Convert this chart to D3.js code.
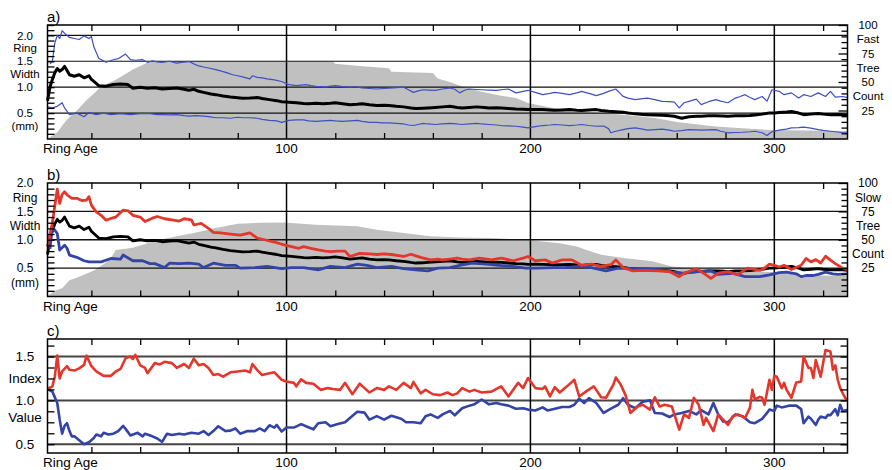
<!DOCTYPE html>
<html>
<head>
<meta charset="utf-8">
<script src="https://cdn.jsdelivr.net/npm/d3@7"></script>
<style>
  body { margin: 0; background: #fff; }
  svg { display: block; }
  text { font-family: "Liberation Sans", Arial, sans-serif; fill: #000; }
</style>
</head>
<body>
<svg id="chart" width="892" height="470"></svg>
<script>
// ---- Ring age axis -------------------------------------------------------
const ageRange = [2, 330];
const ageTickLabels = ["100", "200", "300"];

// ---- Mean ring width of all trees (mm), by ring age ----------------------
const meanRW = [[2,0.74],[3,1.0],[4,1.15],[5,1.28],[6,1.36],[7,1.31],[8,1.34],[9,1.40],[10,1.32],[11,1.24],[13,1.21],[15,1.24],[17,1.18],[19,1.22],[20,1.15],[21,1.11],[23,1.03],[26,1.02],[29,1.05],[32,1.06],[35,1.05],[37,0.98],[40,1.0],[43,0.98],[46,0.99],[49,0.965],[52,0.975],[55,0.985],[58,0.96],[60,0.94],[62,0.96],[64,0.92],[66,0.90],[69,0.87],[71,0.856],[74,0.83],[77,0.81],[80,0.795],[82,0.785],[85,0.79],[88,0.80],[90,0.78],[93,0.76],[96,0.74],[98,0.72],[101,0.71],[104,0.70],[107,0.685],[109,0.68],[112,0.69],[115,0.68],[118,0.69],[120,0.70],[123,0.68],[126,0.66],[129,0.67],[131,0.68],[134,0.66],[137,0.645],[140,0.65],[142,0.645],[145,0.63],[148,0.62],[151,0.60],[153,0.59],[156,0.595],[158,0.60],[161,0.61],[164,0.62],[167,0.63],[170,0.61],[172,0.60],[175,0.61],[178,0.62],[181,0.61],[183,0.60],[186,0.605],[188,0.60],[191,0.59],[194,0.58],[197,0.575],[199,0.567],[202,0.57],[205,0.567],[208,0.56],[210,0.555],[213,0.56],[216,0.567],[219,0.555],[221,0.55],[224,0.56],[227,0.567],[229,0.55],[232,0.535],[235,0.525],[238,0.515],[240,0.50],[243,0.485],[246,0.475],[248,0.47],[251,0.465],[254,0.46],[257,0.45],[259,0.44],[262,0.40],[265,0.43],[268,0.44],[270,0.44],[273,0.45],[276,0.45],[279,0.445],[281,0.44],[284,0.45],[287,0.45],[290,0.455],[292,0.465],[295,0.48],[298,0.50],[300,0.50],[302,0.51],[305,0.52],[307,0.53],[310,0.50],[312,0.47],[315,0.48],[318,0.49],[320,0.48],[323,0.47],[326,0.475],[328,0.47],[330,0.46]];

// ---- Fast-growing trees: upper and lower envelope (mm) -------------------
const fastHigh = [[3,1.45],[4,1.50],[5,1.85],[6,2.0],[7,1.94],[8,2.09],[9,2.04],[10,2.0],[11,1.96],[13,1.94],[15,1.92],[17,1.99],[19,1.94],[20,1.98],[21,1.78],[23,1.56],[26,1.48],[29,1.53],[31,1.55],[34,1.64],[36,1.53],[38,1.52],[41,1.53],[43,1.48],[45,1.51],[47,1.49],[49,1.48],[52,1.50],[55,1.465],[57,1.48],[60,1.495],[62,1.45],[64,1.41],[66,1.39],[68,1.37],[71,1.34],[74,1.30],[76,1.27],[78,1.24],[80,1.22],[82,1.20],[85,1.16],[86,1.22],[88,1.19],[90,1.18],[92,1.16],[95,1.14],[98,1.11],[101,1.05],[104,1.03],[106,1.04],[108,1.05],[110,1.03],[112,1.015],[114,1.01],[116,1.0],[118,1.02],[120,1.03],[123,1.01],[126,1.0],[128,1.01],[131,0.985],[134,0.975],[137,0.965],[140,0.975],[142,0.98],[145,0.99],[148,1.0],[150,0.95],[152,0.90],[154,0.93],[156,0.95],[158,0.945],[161,0.94],[164,0.965],[167,0.985],[169,0.96],[171,0.89],[173,0.94],[175,0.965],[178,0.955],[180,0.95],[183,0.945],[186,0.94],[189,0.955],[191,0.965],[194,0.89],[197,0.92],[199,0.94],[202,0.90],[205,0.856],[208,0.88],[210,0.90],[213,0.88],[216,0.856],[219,0.89],[221,0.92],[224,0.88],[227,0.837],[230,0.88],[232,0.92],[235,0.965],[238,0.823],[240,0.79],[243,0.76],[246,0.78],[248,0.79],[251,0.76],[254,0.727],[257,0.72],[259,0.71],[261,0.60],[263,0.70],[265,0.727],[268,0.77],[270,0.663],[273,0.72],[276,0.76],[278,0.73],[281,0.70],[284,0.79],[286,0.82],[288,0.856],[290,0.80],[292,0.76],[295,0.82],[297,0.73],[299,0.95],[302,0.92],[304,0.856],[307,0.89],[310,0.79],[312,0.856],[315,0.82],[318,0.89],[321,0.82],[323,0.92],[325,0.81],[328,0.82],[330,0.80]];

const fastLow = [[2,0.62],[4,0.60],[6,0.63],[8,0.70],[9,0.60],[11,0.47],[14,0.50],[17,0.43],[19,0.51],[22,0.47],[25,0.50],[28,0.47],[32,0.49],[36,0.47],[40,0.49],[44,0.49],[47,0.47],[49,0.47],[52,0.465],[55,0.47],[58,0.45],[60,0.44],[63,0.45],[66,0.44],[68,0.43],[71,0.41],[74,0.41],[77,0.40],[80,0.42],[82,0.41],[85,0.41],[88,0.40],[90,0.38],[93,0.36],[96,0.35],[98,0.32],[101,0.36],[104,0.37],[107,0.37],[109,0.35],[112,0.34],[115,0.35],[118,0.36],[120,0.35],[123,0.34],[126,0.35],[129,0.36],[131,0.34],[134,0.32],[137,0.32],[139,0.31],[142,0.31],[145,0.30],[148,0.29],[150,0.27],[152,0.26],[154,0.28],[156,0.30],[158,0.29],[161,0.28],[164,0.29],[167,0.30],[170,0.29],[172,0.28],[175,0.29],[178,0.30],[180,0.29],[183,0.28],[186,0.27],[188,0.26],[191,0.255],[194,0.246],[197,0.23],[199,0.215],[202,0.24],[205,0.26],[208,0.27],[210,0.28],[213,0.27],[216,0.26],[219,0.27],[221,0.28],[224,0.26],[227,0.246],[230,0.25],[232,0.20],[233,0.12],[235,0.15],[238,0.18],[240,0.20],[243,0.215],[246,0.19],[248,0.17],[251,0.18],[254,0.19],[257,0.17],[259,0.15],[262,0.16],[265,0.18],[268,0.175],[270,0.17],[273,0.175],[276,0.18],[278,0.15],[281,0.12],[284,0.125],[287,0.13],[290,0.14],[292,0.15],[295,0.12],[297,0.067],[299,0.14],[302,0.17],[305,0.19],[307,0.215],[310,0.22],[312,0.23],[315,0.21],[318,0.18],[320,0.165],[323,0.15],[326,0.135],[328,0.12],[330,0.12]];

// Number of fast-growing trees reaching each ring age
const fastCount = [[2,0],[4,3],[6,6],[10,17],[14,25],[18,34],[21,40],[24,46],[27,49],[30,52],[34,57],[37,61],[40,64],[43,67],[46,68],[119,68],[120,66],[130,64],[142,62],[143,59],[160,58],[162,53],[167,50],[172,46],[180,41.5],[188,38],[194,36],[199,31.5],[207,28],[218,24],[229,23],[239,21],[251,18.5],[260,15],[268,13],[276,11],[290,9],[298,8],[330,7]];

// ---- Slow-growing trees (mm) ---------------------------------------------
const slowHigh = [[2,0.875],[4,1.30],[6,1.89],[7,1.64],[8,1.80],[9,1.845],[10,1.79],[12,1.73],[14,1.73],[16,1.69],[18,1.70],[19,1.76],[20,1.61],[22,1.49],[24,1.43],[26,1.345],[28,1.375],[30,1.40],[33,1.52],[35,1.51],[37,1.43],[40,1.40],[42,1.32],[45,1.38],[47,1.41],[50,1.37],[53,1.35],[56,1.33],[58,1.37],[61,1.35],[62,1.26],[65,1.29],[68,1.20],[70,1.13],[73,1.12],[77,1.10],[81,1.08],[85,1.12],[88,1.03],[91,1.0],[95,0.96],[99,0.91],[102,0.88],[105,0.85],[107,0.88],[110,0.85],[113,0.82],[116,0.80],[118,0.79],[121,0.80],[124,0.80],[126,0.705],[130,0.76],[134,0.75],[137,0.74],[140,0.75],[143,0.74],[146,0.72],[148,0.705],[151,0.745],[155,0.69],[159,0.645],[162,0.66],[164,0.645],[167,0.66],[170,0.675],[172,0.66],[175,0.645],[179,0.675],[182,0.66],[184,0.645],[188,0.675],[193,0.63],[197,0.675],[199,0.705],[202,0.63],[206,0.645],[209,0.59],[213,0.645],[217,0.645],[221,0.55],[225,0.57],[229,0.53],[233,0.56],[235,0.645],[238,0.51],[242,0.45],[247,0.46],[252,0.45],[257,0.44],[261,0.35],[263,0.41],[268,0.49],[272,0.38],[274,0.32],[277,0.41],[281,0.44],[285,0.38],[289,0.50],[294,0.46],[296,0.50],[298,0.57],[300,0.55],[302,0.52],[304,0.55],[307,0.475],[311,0.55],[313,0.67],[315,0.61],[317,0.65],[319,0.59],[321,0.71],[323,0.64],[325,0.58],[328,0.50],[330,0.475]];

const slowLow = [[3,0.84],[4,1.23],[6,1.11],[7,0.82],[9,0.905],[10,0.85],[11,0.73],[14,0.69],[17,0.63],[19,0.61],[24,0.61],[28,0.67],[32,0.66],[33,0.73],[37,0.63],[41,0.63],[44,0.58],[46,0.58],[50,0.51],[52,0.587],[56,0.58],[60,0.587],[64,0.57],[66,0.51],[70,0.587],[75,0.55],[79,0.55],[81,0.50],[87,0.51],[92,0.53],[98,0.49],[102,0.51],[107,0.51],[113,0.47],[118,0.53],[124,0.51],[129,0.57],[133,0.55],[137,0.51],[143,0.53],[148,0.49],[153,0.47],[158,0.45],[162,0.50],[167,0.51],[171,0.55],[176,0.587],[182,0.57],[187,0.55],[193,0.53],[198,0.50],[203,0.50],[209,0.51],[214,0.51],[220,0.53],[225,0.51],[231,0.45],[236,0.50],[242,0.49],[247,0.49],[253,0.47],[258,0.43],[263,0.41],[269,0.44],[274,0.45],[277,0.39],[283,0.41],[288,0.35],[294,0.35],[298,0.38],[302,0.42],[305,0.43],[309,0.40],[311,0.35],[313,0.37],[316,0.37],[318,0.39],[321,0.43],[324,0.40],[326,0.39],[330,0.40]];

// Number of slow-growing trees reaching each ring age
const slowCount = [[2,0],[3,2],[5,5],[8,7.3],[11,14.4],[15,17.3],[21,23],[26,30],[28,34],[30,41],[37,43],[43,47],[48,50],[55,53],[62,56],[70,60],[80,64],[90,65],[99,65.3],[112,63.2],[129,62],[137,58.8],[148,56],[159,53],[171,52],[184,51.5],[198,50],[205,48.5],[212,47],[219,44],[223,41],[229,36.7],[239,33.8],[250,31],[258,26.5],[266,25],[280,23.5],[293,22],[302,21.4],[310,19],[330,18]];

// ---- Index values (group mean / overall mean) ----------------------------
const indexSlow = [[2,1.13],[4,1.16],[5,1.27],[6,1.51],[7,1.25],[8,1.33],[10,1.39],[11,1.35],[13,1.34],[15,1.365],[17,1.405],[18,1.51],[20,1.39],[22,1.33],[25,1.28],[28,1.28],[30,1.33],[32,1.36],[34,1.48],[36,1.50],[37,1.47],[38,1.52],[40,1.40],[42,1.37],[43,1.31],[46,1.425],[48,1.41],[50,1.44],[53,1.425],[55,1.37],[58,1.415],[60,1.37],[62,1.475],[64,1.40],[66,1.415],[68,1.37],[70,1.29],[72,1.30],[74,1.27],[77,1.32],[80,1.33],[83,1.34],[85,1.32],[86,1.415],[88,1.345],[90,1.29],[93,1.31],[95,1.32],[98,1.235],[100,1.215],[103,1.20],[104,1.16],[106,1.24],[108,1.20],[111,1.19],[114,1.12],[117,1.14],[119,1.13],[122,1.12],[124,1.20],[127,1.07],[130,1.19],[132,1.14],[134,1.09],[137,1.14],[140,1.12],[142,1.16],[145,1.12],[148,1.20],[151,1.14],[152,1.21],[155,1.08],[157,1.12],[160,1.07],[163,1.06],[166,1.09],[168,1.06],[170,1.08],[172,1.14],[175,1.10],[177,1.12],[180,1.09],[184,1.10],[188,1.16],[191,1.045],[195,1.20],[197,1.14],[199,1.255],[202,1.14],[205,1.13],[206,1.16],[208,1.045],[210,1.15],[212,1.09],[215,1.16],[218,1.235],[220,1.045],[223,1.105],[226,1.16],[229,1.035],[231,1.03],[234,1.18],[235,1.26],[237,1.18],[239,1.06],[241,0.857],[244,0.93],[246,0.95],[249,0.895],[251,1.035],[253,0.93],[255,0.95],[258,0.93],[261,0.667],[263,0.84],[265,0.80],[267,1.03],[269,0.95],[271,0.72],[272,0.80],[275,0.65],[277,0.84],[279,0.78],[281,0.72],[283,0.82],[285,0.84],[288,0.80],[290,0.915],[291,1.12],[292,1.01],[294,1.04],[295,1.03],[296,0.95],[298,1.235],[299,1.12],[300,1.28],[301,1.27],[303,1.14],[304,1.20],[305,1.12],[307,1.03],[309,1.205],[311,1.216],[312,1.50],[314,1.37],[315,1.37],[316,1.255],[317,1.46],[319,1.27],[320,1.425],[321,1.575],[323,1.557],[324,1.35],[325,1.40],[326,1.235],[327,1.14],[329,1.03],[330,1.0]];

const indexFast = [[2,1.13],[4,1.10],[6,0.97],[7,0.78],[8,0.62],[9,0.71],[10,0.74],[11,0.65],[12,0.59],[13,0.59],[15,0.545],[17,0.50],[19,0.523],[21,0.57],[22,0.61],[24,0.59],[25,0.63],[27,0.61],[29,0.62],[31,0.65],[33,0.71],[34,0.675],[36,0.60],[39,0.63],[41,0.59],[42,0.62],[45,0.59],[47,0.565],[49,0.527],[51,0.62],[53,0.605],[56,0.62],[58,0.61],[61,0.63],[64,0.62],[66,0.65],[68,0.605],[70,0.65],[72,0.705],[75,0.65],[77,0.655],[79,0.68],[81,0.62],[84,0.65],[87,0.65],[89,0.68],[91,0.65],[93,0.716],[95,0.69],[96,0.72],[98,0.645],[100,0.69],[103,0.69],[106,0.73],[108,0.705],[111,0.67],[113,0.74],[116,0.75],[118,0.705],[121,0.73],[124,0.75],[126,0.80],[129,0.87],[132,0.86],[134,0.78],[137,0.82],[140,0.78],[143,0.825],[147,0.79],[149,0.75],[152,0.75],[155,0.74],[157,0.82],[159,0.84],[162,0.80],[164,0.84],[167,0.88],[169,0.83],[172,0.91],[175,0.94],[177,0.955],[180,1.01],[183,0.955],[186,0.97],[188,0.955],[191,0.94],[194,0.905],[197,0.91],[199,0.895],[202,0.885],[205,0.92],[207,0.885],[210,0.905],[213,0.925],[216,0.925],[218,0.95],[220,1.02],[222,0.97],[224,1.025],[227,0.97],[230,0.857],[233,0.905],[236,0.95],[238,1.025],[240,0.95],[243,0.91],[246,0.985],[249,1.0],[251,0.857],[254,0.85],[257,0.81],[259,0.84],[262,0.857],[265,0.88],[268,0.84],[270,0.89],[273,0.84],[275,0.97],[277,0.84],[279,0.76],[281,0.75],[284,0.84],[287,0.82],[290,0.75],[292,0.74],[295,0.79],[297,0.857],[298,0.895],[300,0.88],[301,0.94],[303,0.92],[306,0.94],[309,0.94],[311,0.90],[312,0.74],[314,0.815],[315,0.79],[317,0.72],[318,0.78],[319,0.815],[321,0.80],[322,0.835],[323,0.83],[325,0.90],[326,0.83],[327,0.95],[328,0.88],[330,0.89]];

// ---- Axis wording --------------------------------------------------------
const rwLeftLabels = [["2.0",2.0],["Ring",1.75],["1.5",1.5],["Width",1.25],["1.0",1.0],["0.5",0.5],["(mm)",0.25]];
const fastRightLabels = [["100",100],["Fast",87.5],["75",75],["Tree",62.5],["50",50],["Count",37.5],["25",25]];
const slowRightLabels = [["100",100],["Slow",87.5],["75",75],["Tree",62.5],["50",50],["Count",37.5],["25",25]];
const indexLeftLabels = [["1.5",1.5],["Index",1.25],["1.0",1.0],["Value",0.8125],["0.5",0.5]];

// ---- Drawing -------------------------------------------------------------
const RED = "#e5362b", BLUE = "#3344a6", BLUE_THIN = "#3d50c2", GREY = "#c0c0c0";
const svg = d3.select("#chart");
const x = d3.scaleLinear().domain(ageRange).range([47.5, 847.5]);
const ageMinor = d3.range(20, 330, 20).filter(v => v % 100 !== 0);
const ageMajor = ageTickLabels.map(Number);

function drawPanel(p) {
  const g = svg.append("g");
  const y = d3.scaleLinear().domain(p.yDomain).range([p.bottom, p.top]);
  const yc = p.count ? d3.scaleLinear().domain([0, 100]).range([p.bottom, p.top]) : null;
  const [x0, x1] = x.range();

  if (p.count) {
    g.append("path").datum(p.count)
      .attr("fill", GREY)
      .attr("d", d3.area().x(d => x(d[0])).y0(yc(0)).y1(d => yc(d[1])));
  }

  // horizontal reference lines
  g.selectAll(".hgrid").data(p.grid).join("line")
    .attr("x1", x0).attr("x2", x1)
    .attr("y1", d => y(d)).attr("y2", d => y(d))
    .attr("stroke", p.gridColor).attr("stroke-width", p.gridWidth);
  // vertical reference lines at every 100 years
  g.selectAll(".vgrid").data(ageMajor).join("line")
    .attr("x1", d => x(d)).attr("x2", d => x(d))
    .attr("y1", p.top).attr("y2", p.bottom)
    .attr("stroke", "#000").attr("stroke-width", 1.5);

  // series
  const line = d3.line().x(d => x(d[0])).y(d => y(d[1]));
  p.series.forEach(s => {
    g.append("path").datum(s.data)
      .attr("fill", "none").attr("stroke", s.color)
      .attr("stroke-width", s.width).attr("stroke-linejoin", "round")
      .attr("d", line);
  });

  // inward tick marks
  const tickStyle = sel => { sel.select(".domain").remove(); sel.selectAll("line").attr("stroke", "#000").attr("stroke-width", 1.3); };
  g.append("g").attr("transform", `translate(0,${p.bottom})`)
    .call(d3.axisBottom(x).tickValues(ageMinor).tickSize(-6).tickFormat("")).call(tickStyle);
  g.append("g").attr("transform", `translate(0,${p.top})`)
    .call(d3.axisTop(x).tickValues(ageMinor).tickSize(-6).tickFormat("")).call(tickStyle);
  g.append("g").attr("transform", `translate(${x0},0)`)
    .call(d3.axisLeft(y).tickValues(p.leftTicks).tickSize(-7).tickFormat("")).call(tickStyle);
  if (p.count) {
    const minor = d3.range(5, 100, 5).filter(v => v % 25 !== 0);
    g.append("g").attr("transform", `translate(${x1},0)`)
      .call(d3.axisRight(yc).tickValues(minor).tickSize(-6).tickFormat("")).call(tickStyle);
    g.append("g").attr("transform", `translate(${x1},0)`)
      .call(d3.axisRight(yc).tickValues([25, 50, 75, 100]).tickSize(-9).tickFormat("")).call(tickStyle);
  } else {
    g.append("g").attr("transform", `translate(${x1},0)`)
      .call(d3.axisRight(y).tickValues(p.leftTicks).tickSize(-7).tickFormat("")).call(tickStyle);
  }

  // frame
  g.append("rect").attr("x", x0).attr("y", p.top)
    .attr("width", x1 - x0).attr("height", p.bottom - p.top)
    .attr("fill", "none").attr("stroke", "#000").attr("stroke-width", 1.5);

  // axis text
  g.selectAll(".ll").data(p.leftLabels).join("text")
    .attr("x", 25).attr("y", d => y(d[1])).attr("dy", "0.36em")
    .attr("text-anchor", "middle").attr("font-size", p.labelSize).text(d => d[0]);
  if (p.rightLabels) {
    g.selectAll(".rl").data(p.rightLabels).join("text")
      .attr("x", 868).attr("y", d => yc(d[1])).attr("dy", "0.36em")
      .attr("text-anchor", "middle").attr("font-size", p.labelSize).text(d => d[0]);
  }
  g.selectAll(".xl").data(ageTickLabels).join("text")
    .attr("x", d => x(+d)).attr("y", p.bottom + 14)
    .attr("text-anchor", "middle").attr("font-size", 13.5).text(d => d);
  g.append("text").attr("x", 43).attr("y", p.bottom + 14)
    .attr("font-size", 13.5).text("Ring Age");
  g.append("text").attr("x", 47).attr("y", p.top - 3)
    .attr("font-size", 15).text(p.tag);
}

const rwTicks = d3.range(0.1, 2.21, 0.1).map(v => +v.toFixed(1));

drawPanel({
  tag: "a)", top: 25, bottom: 139, yDomain: [0, 2.2], labelSize: 11.5,
  grid: [0.5, 1.0, 1.5, 2.0], gridColor: "#111", gridWidth: 1.2,
  leftTicks: rwTicks, leftLabels: rwLeftLabels, rightLabels: fastRightLabels,
  count: fastCount,
  series: [
    { data: fastHigh, color: BLUE_THIN, width: 1.2 },
    { data: fastLow, color: BLUE_THIN, width: 1.2 },
    { data: meanRW, color: "#000", width: 3 }
  ]
});

drawPanel({
  tag: "b)", top: 183, bottom: 296.5, yDomain: [0, 2.0], labelSize: 12,
  grid: [0.5, 1.0, 1.5], gridColor: "#111", gridWidth: 1.4,
  leftTicks: rwTicks.filter(v => v < 2), leftLabels: rwLeftLabels, rightLabels: slowRightLabels,
  count: slowCount,
  series: [
    { data: meanRW, color: "#000", width: 2.8 },
    { data: slowLow, color: BLUE, width: 2.8 },
    { data: slowHigh, color: RED, width: 2.8 }
  ]
});

drawPanel({
  tag: "c)", top: 339, bottom: 453, yDomain: [0.4, 1.7], labelSize: 13.5,
  grid: [0.5, 1.0, 1.5], gridColor: "#444", gridWidth: 2,
  leftTicks: d3.range(0.5, 1.7, 0.125), leftLabels: indexLeftLabels,
  count: null,
  series: [
    { data: indexFast, color: BLUE, width: 2.6 },
    { data: indexSlow, color: RED, width: 2.6 }
  ]
});
</script>
</body>
</html>
